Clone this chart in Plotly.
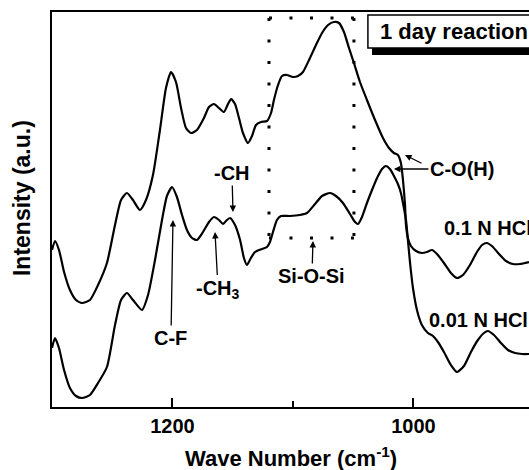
import plotly.graph_objects as go

# ---- data (wavenumber in cm^-1, intensity in a.u.) ----
wn_01 = [1300, 1297.5, 1294.2, 1290, 1285.1, 1280.1, 1275.1, 1268.5, 1261.8, 1254.4,
         1247.7, 1242.7, 1237.8, 1232.8, 1227.0, 1222.0, 1216.2, 1210.4, 1205.4, 1201.2,
         1197.1, 1192.9, 1188.8, 1184.6, 1179.7, 1173.9, 1169.7, 1165.6, 1161.4, 1157.3,
         1153.9, 1151.4, 1148.1, 1144.8, 1141.5, 1137.3, 1134.0, 1130.7, 1126.6, 1121.6,
         1118.2, 1115.8, 1112.4, 1109.1, 1105.0, 1100.0, 1095.8, 1091.7, 1085.9, 1080.9,
         1075.9, 1070.9, 1066.0, 1061.8, 1057.7, 1053.5, 1049.4, 1044.4, 1038.6, 1031.9,
         1025.3, 1020.3, 1016.2, 1012.9, 1010.4, 1008.7, 1007.0, 1006.2, 1004.6, 1002.1,
         997.9, 993.0, 988.8, 984.6, 980.5, 974.7, 968.9, 963.9, 958.9, 953.1,
         947.3, 943.1, 939.0, 934.9, 929.0, 923.2, 917.4, 911.6, 904.1]
int_01 = [1.57, 1.66, 1.57, 1.35, 1.17, 1.07, 1.04, 1.07, 1.22, 1.44,
          1.82, 2.07, 2.14, 2.07, 1.97, 2.07, 2.32, 2.77, 3.19, 3.35,
          3.25, 2.99, 2.79, 2.74, 2.77, 2.89, 3.00, 3.03, 2.99, 2.95,
          3.03, 3.08, 3.03, 2.89, 2.74, 2.64, 2.71, 2.82, 2.85, 2.86,
          2.94, 3.07, 3.22, 3.31, 3.32, 3.30, 3.31, 3.35, 3.49, 3.62,
          3.74, 3.82, 3.85, 3.84, 3.75, 3.59, 3.44, 3.25, 3.07, 2.87,
          2.69, 2.59, 2.54, 2.52, 2.44, 2.27, 2.02, 1.82, 1.69, 1.61,
          1.56, 1.54, 1.55, 1.57, 1.53, 1.44, 1.34, 1.29, 1.32, 1.42,
          1.55, 1.62, 1.64, 1.61, 1.53, 1.46, 1.43, 1.43, 1.45]

wn_001 = [1300, 1297.5, 1294.2, 1290, 1285.1, 1280.1, 1275.1, 1268.5, 1261.8, 1254.4,
          1247.7, 1242.7, 1237.8, 1232.8, 1225.3, 1220.3, 1214.5, 1208.7, 1204.6, 1200.4,
          1196.3, 1192.1, 1188.0, 1183.8, 1179.7, 1174.7, 1169.7, 1165.6, 1161.4, 1158.1,
          1155.6, 1152.3, 1148.1, 1143.9, 1140.7, 1138.2, 1134.9, 1131.5, 1125.7, 1121.6,
          1119.1, 1116.6, 1113.3, 1109.9, 1102.5, 1094.2, 1088.4, 1081.7, 1075.9, 1069.3,
          1064.3, 1058.5, 1052.7, 1048.5, 1046.0, 1042.7, 1038.6, 1034.4, 1030.2, 1026.1,
          1022.8, 1019.5, 1016.2, 1012.9, 1010.4, 1008.7, 1006.2, 1004.6, 1002.9, 1000.4,
          997.1, 993.0, 988.0, 983.8, 979.7, 974.7, 968.9, 963.9, 958.1, 952.3,
          946.5, 941.5, 938.2, 933.2, 927.4, 921.6, 915.7, 909.9, 904.1]
int_001 = [0.59, 0.69, 0.59, 0.37, 0.19, 0.11, 0.09, 0.12, 0.24, 0.40,
           0.82, 1.07, 1.14, 1.07, 0.97, 1.12, 1.47, 1.87, 2.11, 2.20,
           2.10, 1.92, 1.77, 1.69, 1.67, 1.75, 1.85, 1.90, 1.87, 1.83,
           1.86, 1.89, 1.82, 1.67, 1.49, 1.42, 1.49, 1.55, 1.58, 1.60,
           1.65, 1.75, 1.87, 1.91, 1.91, 1.92, 1.94, 2.03, 2.11, 2.14,
           2.11, 2.04, 1.93, 1.85, 1.83, 1.90, 2.04, 2.17, 2.29, 2.38,
           2.41, 2.38, 2.31, 2.23, 2.14, 2.04, 1.87, 1.67, 1.45, 1.19,
           0.97, 0.82, 0.74, 0.71, 0.65, 0.55, 0.42, 0.35, 0.41, 0.55,
           0.67, 0.74, 0.76, 0.72, 0.64, 0.57, 0.54, 0.53, 0.53]

x_ticks = [1200, 1000]
x_tick_labels = ["1200", "1000"]

FONT = "Liberation Sans, Arial, Helvetica, sans-serif"

fig = go.Figure()
for wn, inten, name in [(wn_01, int_01, "0.1 N HCl"), (wn_001, int_001, "0.01 N HCl")]:
    fig.add_trace(go.Scatter(x=wn, y=inten, mode="lines", name=name,
                             line=dict(color="black", width=2.2, shape="spline", smoothing=0.6),
                             showlegend=False, hoverinfo="skip"))

# dotted Si-O-Si box
bx0, bx1, by0, by1 = 1119.9, 1049.4, 1.69, 3.89
dot_h = "3px,17.5px"
dot_v = "3px,18.5px"
for (x0, y0, x1, y1, d) in [(bx0, by1, bx1, by1, dot_h), (bx0, by0, bx1, by0, dot_h),
                            (bx0, by1, bx0, by0, dot_v), (bx1, by1, bx1, by0, dot_v)]:
    fig.add_shape(type="line", xref="x", yref="y", x0=x0, y0=y0, x1=x1, y1=y1,
                  line=dict(color="black", width=3, dash=d))

# "1 day reaction" box with shadow
fig.add_shape(type="rect", xref="x", yref="y", x0=1034.4, x1=820, y0=3.52, y1=3.88,
              fillcolor="black", line=dict(width=0), layer="above")
fig.add_shape(type="rect", xref="x", yref="y", x0=1037.8, x1=820, y0=3.59, y1=3.92,
              fillcolor="white", line=dict(color="black", width=1.5), layer="above")
fig.add_annotation(x=1029.5, y=3.755, xref="x", yref="y", text="1 day reaction",
                   showarrow=False, xanchor="left", yanchor="middle",
                   font=dict(family=FONT, size=22, color="black", weight="bold"))

lab = dict(family=FONT, size=20, color="black", weight="bold")
arr = dict(showarrow=True, arrowhead=2, arrowsize=1, arrowwidth=1.3,
           arrowcolor="black", xref="x", yref="y", standoff=0, font=lab)

# labels with arrows (arrow heads at the marked features)
fig.add_annotation(x=1016.2, y=2.38, ax=68, ay=0, text="C-O(H)", **arr)
fig.add_annotation(x=1007.0, y=2.52, ax=18, ay=9, text="", **arr)
fig.add_annotation(x=1149.8, y=1.95, ax=-1, ay=-39, text="-CH", **arr)
fig.add_annotation(x=1164.7, y=1.75, ax=3, ay=57, text="-CH<sub>3</sub>", **arr)
fig.add_annotation(x=1199.6, y=1.87, ax=-2, ay=118, text="C-F", **arr)
fig.add_annotation(x=1083.4, y=1.66, ax=-1, ay=35, text="Si-O-Si", **arr)

fig.add_annotation(x=976.5, y=1.79, text="0.1 N HCl", showarrow=False, xanchor="left",
                   yanchor="middle", font=lab)
fig.add_annotation(x=988.5, y=0.87, text="0.01 N HCl", showarrow=False, xanchor="left",
                   yanchor="middle", font=lab)

# axis titles
fig.add_annotation(x=0.5, y=0, xref="paper", yref="paper", yshift=-50,
                   text="Wave Number (cm<sup>-1</sup>)", showarrow=False,
                   xanchor="center", yanchor="middle",
                   font=dict(family=FONT, size=22, color="black", weight="bold"))
fig.add_annotation(x=0, y=0.529, xref="paper", yref="paper", xshift=-30,
                   text="Intensity (a.u.)", showarrow=False, textangle=-90,
                   xanchor="center", yanchor="middle",
                   font=dict(family=FONT, size=23, color="black", weight="bold"))

fig.update_layout(
    width=529, height=470,
    margin=dict(l=52, r=0, t=12, b=63),
    paper_bgcolor="white", plot_bgcolor="white",
    xaxis=dict(range=[1300, 904.1], showline=True, linecolor="black", linewidth=2,
               mirror=True, ticks="inside", ticklen=9, tickwidth=2, tickcolor="black",
               tickvals=x_ticks, ticktext=x_tick_labels,
               minor=dict(tickvals=[1100], ticks="inside", ticklen=6, tickwidth=2,
                          tickcolor="black"),
               showgrid=False, zeroline=False,
               tickfont=dict(family=FONT, size=20, color="black", weight="bold")),
    yaxis=dict(range=[0, 3.95], showline=True, linecolor="black", linewidth=2,
               mirror=False, ticks="", showticklabels=False, showgrid=False,
               zeroline=False),
)

fig.write_html("out.html", config={"displayModeBar": False},
               post_script="document.body.style.margin='0';document.body.style.overflow='hidden';")
